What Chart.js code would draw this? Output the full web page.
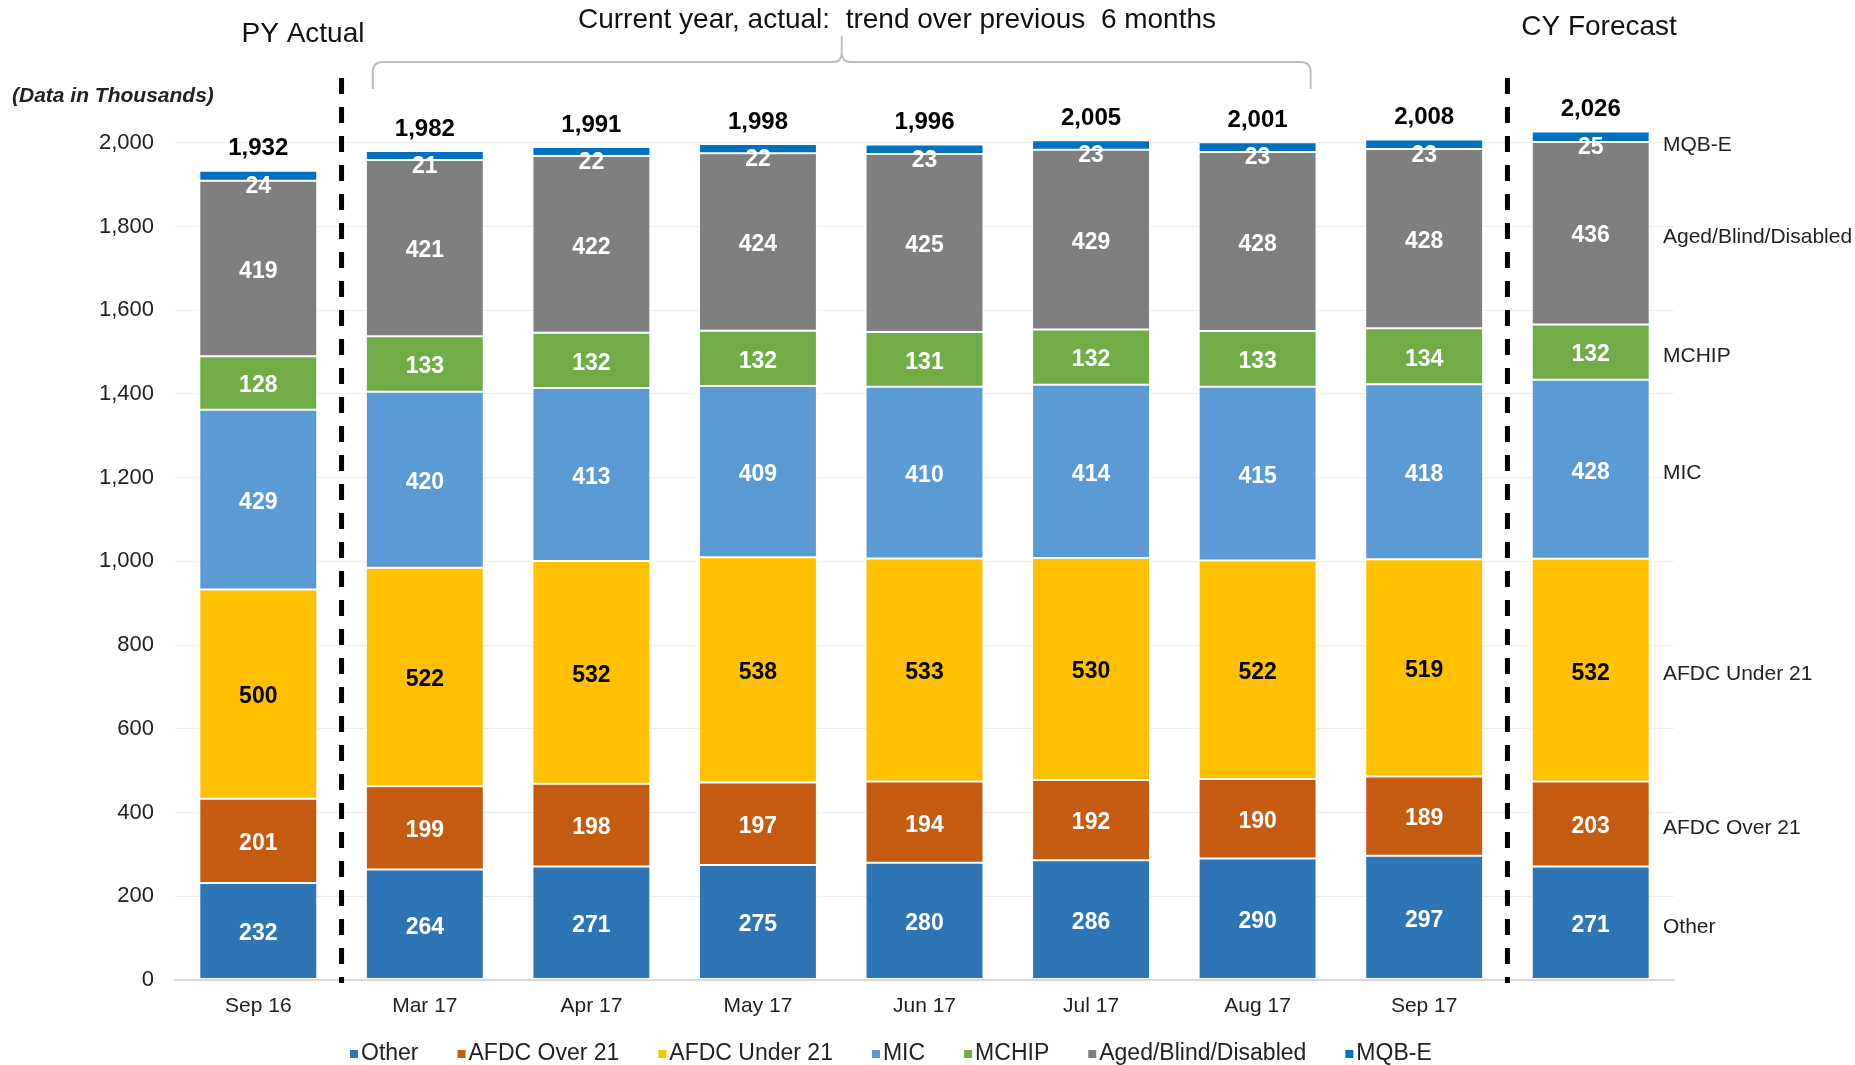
<!DOCTYPE html>
<html>
<head>
<meta charset="utf-8">
<title>Enrollment by category</title>
<script src="https://cdn.jsdelivr.net/npm/chart.js@4.4.1/dist/chart.umd.min.js"></script>
<style>
  html, body { margin: 0; padding: 0; background: #fff; }
  #wrap { width: 1855px; height: 1065px; }
</style>
</head>
<body>
<div id="wrap"><canvas id="enrollChart" width="1855" height="1065"></canvas></div>
<script>
// categories (last one is the forecast column, no tick label)
const months = ['Sep 16', 'Mar 17', 'Apr 17', 'May 17', 'Jun 17', 'Jul 17', 'Aug 17', 'Sep 17', ''];

// series values, in thousands
const other      = [232, 264, 271, 275, 280, 286, 290, 297, 271];
const afdcOver   = [201, 199, 198, 197, 194, 192, 190, 189, 203];
const afdcUnder  = [500, 522, 532, 538, 533, 530, 522, 519, 532];
const mic        = [429, 420, 413, 409, 410, 414, 415, 418, 428];
const mchip      = [128, 133, 132, 132, 131, 132, 133, 134, 132];
const agedBlind  = [419, 421, 422, 424, 425, 429, 428, 428, 436];
const mqbe       = [24, 21, 22, 22, 23, 23, 23, 23, 25];
const totals     = [1932, 1982, 1991, 1998, 1996, 2005, 2001, 2008, 2026];

// axis ticks
const yTicks = [0, 200, 400, 600, 800, 1000, 1200, 1400, 1600, 1800, 2000];

const FONT = '"Liberation Sans", Arial, sans-serif';
Chart.defaults.font.family = FONT;

const fmt = v => Number(v).toLocaleString('en-US');

// labels, totals, dashed separators, headings, brace and legend
const decorPlugin = {
  id: 'decor',
  afterDatasetsDraw(chart) {
    const ctx = chart.ctx;
    ctx.save();
    ctx.textAlign = 'center';
    ctx.textBaseline = 'middle';
    ctx.font = 'bold 23px ' + FONT;
    chart.data.datasets.forEach((ds, di) => {
      const meta = chart.getDatasetMeta(di);
      meta.data.forEach((bar, i) => {
        const p = bar.getProps(['x', 'y', 'base'], true);
        let cy = (p.y + p.base) / 2 + 3;
        if (di === 6) cy += 8; // thin top segment: label sits low like the original
        ctx.fillStyle = di === 2 ? '#000' : '#fff';
        ctx.fillText(ds.data[i], p.x, cy);
      });
    });

    // totals above each stack
    const topMeta = chart.getDatasetMeta(chart.data.datasets.length - 1);
    ctx.fillStyle = '#000';
    ctx.font = 'bold 24px ' + FONT;
    topMeta.data.forEach((bar, i) => {
      const p = bar.getProps(['x', 'y'], true);
      ctx.fillText(fmt(totals[i]), p.x, p.y - 22);
    });

    // series names to the right of the forecast bar
    const last = months.length - 1;
    ctx.font = '21px ' + FONT;
    ctx.textAlign = 'left';
    ctx.fillStyle = '#222';
    chart.data.datasets.forEach((ds, di) => {
      const bar = chart.getDatasetMeta(di).data[last];
      const p = bar.getProps(['x', 'y', 'base'], true);
      let cy = (p.y + p.base) / 2 + 4;
      if (di === 6) cy += 5;
      ctx.fillText(ds.label, 1663, cy);
    });
    ctx.restore();
  },
  afterDraw(chart) {
    const ctx = chart.ctx;
    const x = chart.scales.x;
    const area = chart.chartArea;
    ctx.save();

    // dashed separators
    ctx.strokeStyle = '#000';
    ctx.lineWidth = 5;
    ctx.setLineDash([16, 13]);
    [0, 7].forEach(i => {
      const px = (x.getPixelForValue(i) + x.getPixelForValue(i + 1)) / 2;
      ctx.beginPath();
      ctx.moveTo(px, 78);
      ctx.lineTo(px, area.bottom + 3);
      ctx.stroke();
    });
    ctx.setLineDash([]);

    // headings
    ctx.fillStyle = '#111';
    ctx.textAlign = 'center';
    ctx.textBaseline = 'middle';
    ctx.font = '28px ' + FONT;
    ctx.fillText('PY Actual', 303, 34);
    ctx.fillText('Current year, actual:  trend over previous  6 months', 897, 20);
    ctx.fillText('CY Forecast', 1599, 27);

    ctx.textAlign = 'left';
    ctx.font = 'italic bold 21px ' + FONT;
    ctx.fillStyle = '#222';
    ctx.fillText('(Data in Thousands)', 12, 96);

    // brace over the current-year months
    const L = x.getPixelForValue(1) - 52;
    const R = x.getPixelForValue(6) + 53;
    const M = (L + R) / 2;
    ctx.strokeStyle = '#bfbfbf';
    ctx.lineWidth = 2;
    ctx.beginPath();
    ctx.moveTo(L, 89);
    ctx.lineTo(L, 72);
    ctx.quadraticCurveTo(L, 62, L + 10, 62);
    ctx.lineTo(M - 9, 62);
    ctx.quadraticCurveTo(M, 62, M, 53);
    ctx.lineTo(M, 36);
    ctx.moveTo(M, 53);
    ctx.quadraticCurveTo(M, 62, M + 9, 62);
    ctx.lineTo(R - 10, 62);
    ctx.quadraticCurveTo(R, 62, R, 72);
    ctx.lineTo(R, 89);
    ctx.stroke();

    // legend
    ctx.font = '23px ' + FONT;
    ctx.textBaseline = 'middle';
    let lx = 350;
    const ly = 1054;
    chart.data.datasets.forEach(ds => {
      ctx.fillStyle = ds.backgroundColor;
      ctx.fillRect(lx, ly - 4, 8, 8);
      ctx.fillStyle = '#222';
      ctx.fillText(ds.label, lx + 11, ly);
      lx += 11 + ctx.measureText(ds.label).width + 39;
    });
    ctx.restore();
  }
};

const seg = (label, data, color) => ({
  label: label,
  data: data,
  backgroundColor: color,
  borderColor: '#ffffff',
  borderWidth: 1,
  borderSkipped: false,
  barPercentage: 0.708,
  categoryPercentage: 1.0
});

const ctx = document.getElementById('enrollChart').getContext('2d');
const enrollChart = new Chart(ctx, {
  type: 'bar',
  data: {
    labels: months,
    datasets: [
      seg('Other', other, '#2E75B6'),
      seg('AFDC Over 21', afdcOver, '#C55A11'),
      seg('AFDC Under 21', afdcUnder, '#FFC000'),
      seg('MIC', mic, '#5B9BD5'),
      seg('MCHIP', mchip, '#70AD47'),
      seg('Aged/Blind/Disabled', agedBlind, '#7F7F7F'),
      seg('MQB-E', mqbe, '#0070C0')
    ]
  },
  options: {
    responsive: false,
    animation: false,
    layout: { padding: { left: 0, right: 181, top: 59, bottom: 0 } },
    plugins: {
      legend: { display: false },
      tooltip: { enabled: false }
    },
    scales: {
      x: {
        stacked: true,
        afterFit(s) { s.height = 85; },
        grid: { display: false, drawTicks: false },
        border: { display: true, color: '#d9d9d9', width: 2 },
        ticks: { padding: 14, color: '#222', font: { size: 21 } }
      },
      y: {
        stacked: true,
        min: 0,
        max: 2200,
        afterBuildTicks(s) { s.ticks = yTicks.map(v => ({ value: v })); },
        afterFit(s) { s.width = 175; },
        grid: {
          drawTicks: false,
          color: c => (c.tick && c.tick.value === 0) ? '#d9d9d9' : '#eeeeee',
          lineWidth: c => (c.tick && c.tick.value === 0) ? 2 : 1
        },
        border: { display: false },
        ticks: { padding: 21, color: '#222', font: { size: 22 }, callback: v => fmt(v) }
      }
    }
  },
  plugins: [decorPlugin]
});
</script>
</body>
</html>
